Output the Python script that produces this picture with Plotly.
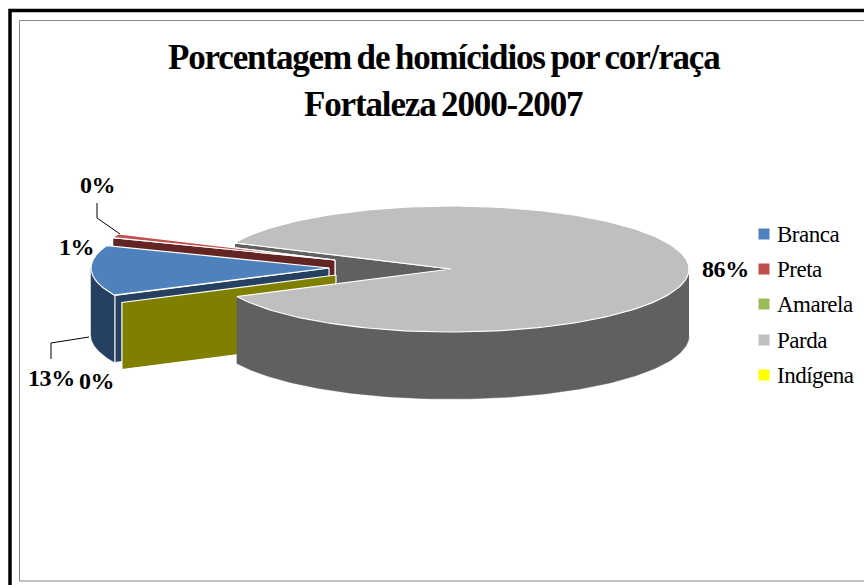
import numpy as np
import plotly.graph_objects as go

# Homicide share by colour/race, Fortaleza 2000-2007 (percent)
categories = ["Branca", "Preta", "Amarela", "Parda", "Indígena"]
shares = [13, 1, 0, 86, 0]
top_colors = ["#4F81BD", "#C0504D", "#9BBB59", "#BFBFBF", "#FFFF00"]
wall_colors = ["#254061", "#632523", "#4F6228", "#606060", "#808000"]

# Projection of the pie disc
RX, RY, DEPTH = 238, 63, 67
PARDA_START = 204.5  # degrees, clockwise on screen from 3 o'clock
# Where each exploded slice has its apex
apex = {
    "Branca": (329, 268),
    "Preta": (335, 260),
    "Amarela": (335, 260),
    "Parda": (451, 269),
    "Indígena": (336, 275),
}

# Slice angle spans follow the data, walking clockwise from Parda
spans = {}
angle = PARDA_START
for i in [3, 4, 0, 1, 2]:
    sweep = shares[i] * 3.6
    spans[categories[i]] = (angle, angle + sweep)
    angle += sweep


def rim(name, t0, t1, n=90):
    cx, cy = apex[name]
    t = np.radians(np.linspace(t0, t1, n))
    return cx + RX * np.cos(t), cy + RY * np.sin(t)


fig = go.Figure()


def poly(xs, ys, color, edge="#FFFFFF", width=1.2):
    fig.add_trace(go.Scatter(
        x=list(xs), y=list(ys), mode="lines", fill="toself", fillcolor=color,
        line=dict(color=edge, width=width), showlegend=False, hoverinfo="skip",
    ))


def top_face(name, color):
    t0, t1 = spans[name]
    x, y = rim(name, t0, t1, 200)
    cx, cy = apex[name]
    poly([cx, *x, cx], [cy, *y, cy], color)


def cut_wall(name, t, color, edge="#FFFFFF"):
    cx, cy = apex[name]
    x, y = rim(name, t, t, 1)
    rx, ry = x[0], y[0]
    poly([cx, rx, rx, cx, cx], [cy, ry, ry + DEPTH, cy + DEPTH, cy], color, edge)


def outer_wall(name, t0, t1, color):
    """Curved side of a slice, limited to the half of the rim facing the viewer."""
    spans_visible = [(max(t0, 0), min(t1, 180)), (max(t0, 360), min(t1, 540))]
    for a, b in spans_visible:
        if b <= a:
            continue
        x, y = rim(name, a, b, 160)
        poly([*x, *x[::-1]], [*y, *(y[::-1] + DEPTH)], color, edge=color, width=0.5)


idx = {c: i for i, c in enumerate(categories)}

# Back-to-front painter order; Parda's far cut face goes first, its disc last
cut_wall("Parda", spans["Parda"][0], wall_colors[idx["Parda"]])
cut_wall("Amarela", spans["Amarela"][0], wall_colors[idx["Amarela"]])
cut_wall("Preta", spans["Preta"][0], wall_colors[idx["Preta"]])
top_face("Preta", top_colors[idx["Preta"]])
t0, t1 = spans["Branca"]
outer_wall("Branca", t0, t1, wall_colors[idx["Branca"]])
cut_wall("Branca", t0, wall_colors[idx["Branca"]])
top_face("Branca", top_colors[idx["Branca"]])
cut_wall("Indígena", spans["Indígena"][0], wall_colors[idx["Indígena"]])
t0, t1 = spans["Parda"]
outer_wall("Parda", t0, t1, wall_colors[idx["Parda"]])
top_face("Parda", top_colors[idx["Parda"]])

# Percentage labels and their leader lines
label_pos = {
    "Branca": (51, 378),
    "Preta": (76, 247),
    "Amarela": (97, 185),
    "Parda": (725, 269),
    "Indígena": (96, 381),
}
LABEL = '<b><span style="letter-spacing:-0.4px">{}%</span></b>'
annotations = [
    dict(x=label_pos[c][0], y=label_pos[c][1], xref="x", yref="y", text=LABEL.format(v),
         showarrow=False, font=dict(family="Liberation Serif", size=24, color="#000000"))
    for c, v in zip(categories, shares)
]

title_font = dict(family="Liberation Serif", size=35, color="#000000")
TITLE = '<b><span style="letter-spacing:-1.15px;word-spacing:-2px">{}</span></b>'
annotations += [
    dict(x=443.5, y=57, xref="x", yref="y", showarrow=False, font=title_font,
         text=TITLE.format("Porcentagem de homícidios por cor/raça")),
    dict(x=443.5, y=104, xref="x", yref="y", showarrow=False, font=title_font,
         text=TITLE.format("Fortaleza 2000-2007")),
]

for lx, ly in [([97, 97, 120], [203, 218, 234]), ([51, 51, 89], [359, 343, 337])]:
    fig.add_trace(go.Scatter(x=lx, y=ly, mode="lines", line=dict(color="#000000", width=1),
                             showlegend=False, hoverinfo="skip"))

# Key: one square and one name per category
key_rows = [234, 269, 304, 340, 375]
KEY = '<span style="letter-spacing:-0.5px">{}</span>'
for name, color, row in zip(categories, top_colors, key_rows):
    fig.add_trace(go.Scatter(
        x=[764], y=[row], mode="markers", name=name, showlegend=False, hoverinfo="skip",
        marker=dict(symbol="square", size=11, color=color),
    ))
    annotations.append(dict(
        x=777, y=row, xref="x", yref="y", xanchor="left", showarrow=False,
        xshift=-2, text=KEY.format(name),
        font=dict(family="Liberation Serif", size=23, color="#000000"),
    ))

frame = [
    dict(type="rect", xref="x", yref="y", x0=10, y0=10.5, x1=900, y1=620,
         line=dict(color="#000000", width=3.5), layer="below"),
    dict(type="rect", xref="x", yref="y", x0=19.5, y0=20.5, x1=900, y1=581,
         line=dict(color="#868686", width=1), layer="below"),
]

fig.update_layout(
    width=864, height=585,
    margin=dict(l=0, r=0, t=0, b=0),
    paper_bgcolor="#FFFFFF", plot_bgcolor="#FFFFFF",
    xaxis=dict(range=[0, 864], visible=False, fixedrange=True),
    yaxis=dict(range=[585, 0], visible=False, fixedrange=True),
    shapes=frame, annotations=annotations,
    font=dict(family="Liberation Serif", color="#000000"),
    showlegend=False,
)

fig.write_html("out.html")
